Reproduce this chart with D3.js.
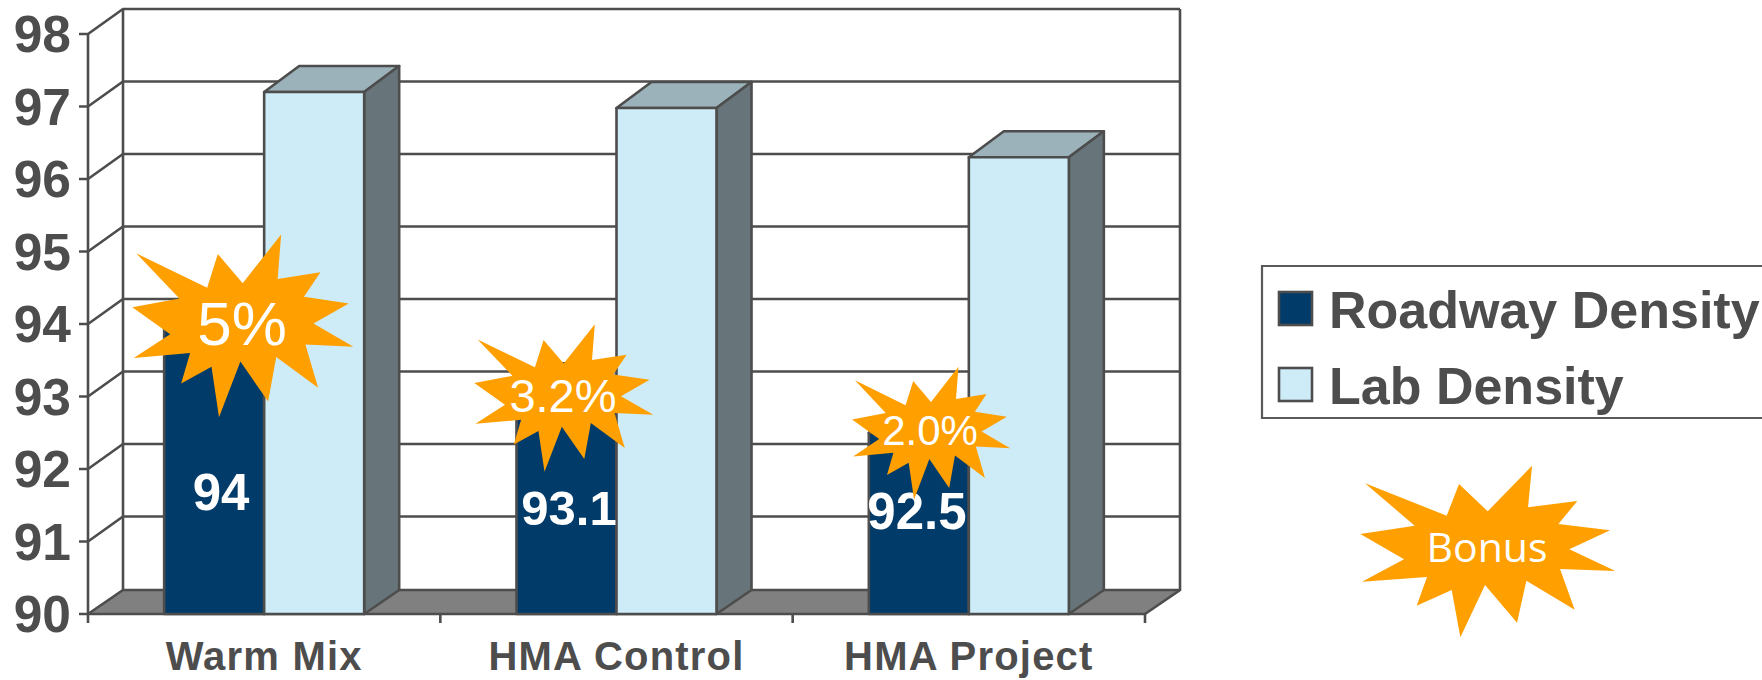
<!DOCTYPE html>
<html><head><meta charset="utf-8">
<script src="https://cdn.jsdelivr.net/npm/d3@7"></script>
<style>html,body{margin:0;padding:0;background:#fff;overflow:hidden}svg{display:block}text{font-family:"Liberation Sans",Arial,sans-serif}</style>
</head><body><svg id="c" width="1762" height="680"></svg>
<script>
const categories = ["Warm Mix","HMA Control","HMA Project"];
const seriesNames = ["Roadway Density","Lab Density"];
const roadwayDensity = [94,93.1,92.5];
const labDensity = [97.2,96.98,96.3];
const yTicks = [90,91,92,93,94,95,96,97,98];
const bonusLabels = ["5%","3.2%","2.0%"];
const keyLabel = "Bonus";

const ink="#4d4d4d", dark="#003b69", light="#ceecf7", sideC="#67757a", topC="#9bb2ba", floorC="#808080", star="#ff9f00";
const dx=35, dy=25, floorDy=24, topDy=26, x0=88, x1=1145;
const sw=2.6;
const svg=d3.select("#c");
const y=d3.scaleLinear().domain([90,98]).range([614,34]);
const x=d3.scaleBand().domain(categories).range([x0,x1]);
const inner=d3.scaleBand().domain(seriesNames).range([0,x.bandwidth()]).paddingInner(0).paddingOuter(0.7615);
const line=d3.line();

svg.append("path").attr("d",line([[x0,y(90)],[x0+dx,y(90)-floorDy],[x1+dx,y(90)-floorDy],[x1,y(90)]])+"Z").attr("fill",floorC);
const grid=svg.append("g").attr("fill","none").attr("stroke",ink).attr("stroke-width",sw);
yTicks.forEach(t=>{
  const d=t===90?floorDy:dy;
  grid.append("path").attr("d",line([[x0-9,y(t)],[x0,y(t)],[x0+dx,y(t)-d],[x1+dx,y(t)-d]]));
});
grid.append("path").attr("d",line([[x0+dx,y(98)-dy],[x0+dx,y(90)-floorDy]]));
grid.append("path").attr("d",line([[x1+dx,y(98)-dy],[x1+dx,y(90)-floorDy],[x1,y(90)]]));
grid.append("path").attr("d",line([[x0,y(98)],[x0,y(90)+9]]));
grid.append("path").attr("d",line([[x0,y(90)],[x1,y(90)]]));
categories.forEach(c=>grid.append("path").attr("d",line([[x(c)+x.bandwidth(),y(90)],[x(c)+x.bandwidth(),y(90)+9]])));

function bar3d(g,bx,w,v,fill){
  const t=y(v),b=y(90);
  g.append("path").attr("d",line([[bx,t],[bx+dx,t-topDy],[bx+w+dx,t-topDy],[bx+w,t]])+"Z").attr("fill",topC);
  g.append("path").attr("d",line([[bx+w,t],[bx+w+dx,t-topDy],[bx+w+dx,b-floorDy],[bx+w,b]])+"Z").attr("fill",sideC);
  g.append("rect").attr("x",bx).attr("y",t).attr("width",w).attr("height",b-t).attr("fill",fill);
}
const bars=svg.append("g").attr("stroke",ink).attr("stroke-width",sw).attr("stroke-linejoin","round");
categories.forEach((c,i)=>{
  bar3d(bars,x(c)+inner(seriesNames[0]),inner.bandwidth(),roadwayDensity[i],dark);
  bar3d(bars,x(c)+inner(seriesNames[1]),inner.bandwidth(),labDensity[i],light);
});

svg.append("g").selectAll("text").data(yTicks).join("text")
  .attr("x",71).attr("y",d=>y(d)+18).attr("text-anchor","end")
  .attr("font-size",51.5).attr("font-weight",700).attr("fill",ink).text(d=>d);
svg.append("g").selectAll("text").data(categories).join("text")
  .attr("x",d=>x(d)+x.bandwidth()/2).attr("y",670).attr("text-anchor","middle")
  .attr("font-size",40).attr("font-weight",700).attr("fill",ink).attr("letter-spacing",1.2).text(d=>d);
const valueLabelY=[510,525,529], valueLabelX=[221,569,917], valueLabelSize=[51,49,51];
svg.append("g").selectAll("text").data(roadwayDensity).join("text")
  .attr("x",(d,i)=>valueLabelX[i]).attr("y",(d,i)=>valueLabelY[i]).attr("text-anchor","middle")
  .attr("font-size",(d,i)=>valueLabelSize[i]).attr("font-weight",700).attr("fill","#fff").text(d=>d);

const starShape=[[-368,-200],[-123,-103],[-86,-198],[0,-116],[133,-253],[121,-128],[269,-147],[212,-78],[367,-59],[245,-2],[383,63],[217,57],[261,179],[116,92],[88,218],[-8,105],[-82,262],[-108,120],[-213,167],[-182,81],[-377,95],[-251,28],[-382,-48],[-219,-73]];
const starLine=(cx,cy,sx,sy)=>line(starShape.map(p=>[cx+p[0]*sx/3,cy+p[1]*sy/3]))+"Z";
const stars=[
 {c:[242.7,324.3],s:[.867,1.064],t:[242,345,62]},
 {c:[563.7,396.7],s:[.702,.858],t:[563,411.5,47]},
 {c:[931,431.9],s:[.62,.773],t:[930,445,42]}];
stars.forEach((o,i)=>{
  svg.append("path").attr("d",starLine(o.c[0],o.c[1],o.s[0],o.s[1])).attr("fill",star);
  svg.append("text").attr("x",o.t[0]).attr("y",o.t[1]).attr("text-anchor","middle").attr("font-size",o.t[2]).attr("fill","#fff").text(bonusLabels[i]);
});
svg.append("path").attr("d",starLine(1487.7,550,1,1)).attr("fill",star);
svg.append("text").attr("x",1487).attr("y",562).attr("text-anchor","middle").attr("font-size",41).attr("font-weight",500).style("font-family","'Open Sans'").attr("fill","#fff").text(keyLabel);

svg.append("path").attr("d",line([[1762,266],[1262,266],[1262,418],[1762,418]])).attr("fill","none").attr("stroke","#5a5a5a").attr("stroke-width",2.2);
const legendY=d3.scalePoint().domain(seriesNames).range([292,368]);
const lg=svg.append("g").selectAll("g").data(seriesNames).join("g");
lg.append("rect").attr("x",1279).attr("y",d=>legendY(d)).attr("width",33).attr("height",33)
  .attr("fill",(d,i)=>i?light:dark).attr("stroke",ink).attr("stroke-width",sw);
lg.append("text").attr("x",1329).attr("y",d=>legendY(d)+36).attr("font-size",52).attr("font-weight",700).attr("fill",ink).text(d=>d);
</script></body></html>
